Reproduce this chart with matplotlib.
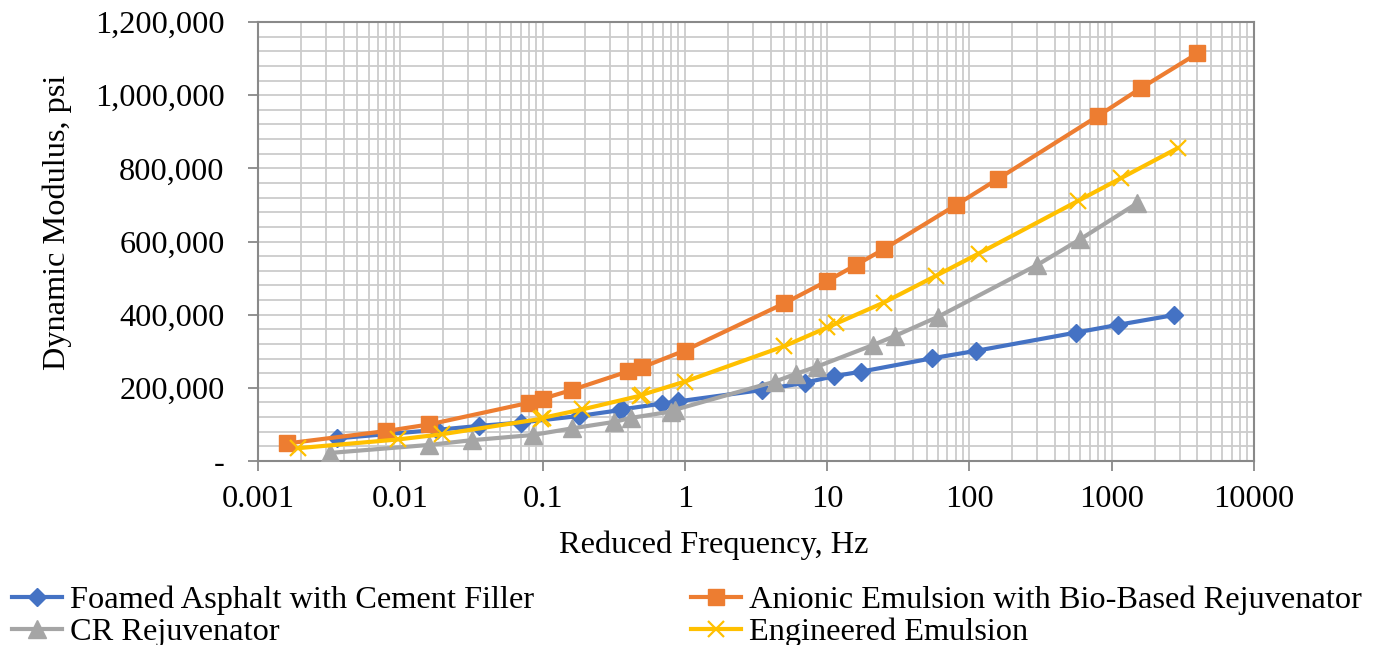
import matplotlib
matplotlib.use("Agg")
import matplotlib.pyplot as plt
from matplotlib.ticker import FixedLocator, FuncFormatter, LogLocator, NullFormatter

plt.rcParams['font.family'] = ['Liberation Serif', 'DejaVu Serif']

# Data (reduced frequency Hz, dynamic modulus psi)
foamed_f = [0.0036, 0.018, 0.036, 0.07, 0.18, 0.35, 0.36, 0.69, 0.9, 3.46, 7, 11.2, 17.2, 55, 111, 560, 1100, 2750]
foamed_e = [62000, 85000, 96000, 105000, 123000, 139000, 141000, 157000, 163000, 194000, 214000, 232000, 244000, 281000, 301000, 351000, 372000, 399000]

anionic_f = [0.0016, 0.008, 0.016, 0.08, 0.1, 0.16, 0.4, 0.5, 1.0, 5, 10, 16, 25, 80, 160, 800, 1600, 4000]
anionic_e = [48000, 82000, 100000, 159000, 170000, 194000, 245000, 256000, 302000, 431000, 492000, 536000, 579000, 699000, 772000, 943000, 1019000, 1114000]

cr_f = [0.0032, 0.016, 0.032, 0.085, 0.16, 0.32, 0.42, 0.8, 0.85, 4.3, 6.0, 8.5, 21, 30, 60, 300, 600, 1500]
cr_e = [22000, 44000, 57000, 71000, 89000, 107000, 118000, 135000, 140000, 217000, 238000, 258000, 317000, 342000, 394000, 536000, 606000, 704000]

eng_f = [0.0019, 0.0097, 0.0195, 0.097, 0.1, 0.19, 0.48, 0.5, 1.0, 5, 10, 11.6, 25, 58, 116, 580, 1160, 2900]
eng_e = [35000, 59000, 73000, 115000, 118000, 141000, 178000, 181000, 217000, 314000, 365000, 376000, 433000, 506000, 567000, 711000, 773000, 855000]

series_labels = ["Foamed Asphalt with Cement Filler", "Anionic Emulsion with Bio-Based Rejuvenator",
                 "CR Rejuvenator", "Engineered Emulsion"]
x_ticks = [0.001, 0.01, 0.1, 1, 10, 100, 1000, 10000]
x_tick_labels = ["0.001", "0.01", "0.1", "1", "10", "100", "1000", "10000"]
y_ticks = [0, 200000, 400000, 600000, 800000, 1000000, 1200000]

fig = plt.figure(figsize=(13.74, 6.45), dpi=100)
ax = fig.add_axes([258/1374, 1-461/645, (1254-258)/1374, (461-22)/645])

fs = 23.3
lw = 3.0
l1, = ax.plot(foamed_f, foamed_e, color='#4472C4', lw=lw, marker='D', ms=9, zorder=3)
l2, = ax.plot(anionic_f, anionic_e, color='#ED7D31', lw=lw, marker='s', ms=12, zorder=3)
l3, = ax.plot(cr_f, cr_e, color='#A5A5A5', lw=lw, marker='^', ms=12.5, zorder=3)
l4, = ax.plot(eng_f, eng_e, color='#FFC000', lw=lw, marker='x', ms=11.5, mew=1.6, zorder=3)

ax.set_xscale('log')
ax.set_xlim(0.001, 10000)
ax.set_ylim(0, 1200000)
ax.xaxis.set_major_locator(FixedLocator(x_ticks))
ax.set_xticklabels(x_tick_labels)
ax.xaxis.set_minor_locator(LogLocator(base=10, subs=range(2, 10), numticks=100))
ax.xaxis.set_minor_formatter(NullFormatter())
ax.yaxis.set_major_locator(FixedLocator(y_ticks))
ax.yaxis.set_minor_locator(FixedLocator(list(range(0, 1200001, 40000))))
ax.yaxis.set_major_formatter(FuncFormatter(lambda v, p: "-" if v == 0 else f"{int(v):,}"))

ax.grid(True, which='both', axis='both', color='#cccccc', lw=1.3, zorder=0)
ax.set_axisbelow(True)
for s in ax.spines.values():
    s.set_color('#898989')
    s.set_linewidth(1.5)
ax.tick_params(axis='both', which='major', direction='out', length=7, width=1.3, color='#898989', labelsize=fs)
ax.tick_params(axis='x', which='major', pad=10)
ax.tick_params(axis='y', which='major', pad=17)
ax.tick_params(which='minor', length=0)

ax.set_xlabel("Reduced Frequency, Hz", fontsize=fs)
ax.set_ylabel("Dynamic Modulus, psi", fontsize=fs)
ax.xaxis.set_label_coords((714-258)/996, -(545-461)/439, transform=ax.transAxes)
ax.xaxis.label.set_va('center')
ax.yaxis.set_label_coords((57-258)/996, (461-222)/439, transform=ax.transAxes)
ax.yaxis.label.set_va('center')

leg = fig.legend([l1, l3, l2, l4], [series_labels[0], series_labels[2], series_labels[1], series_labels[3]],
                 ncol=2, loc='lower left', bbox_to_anchor=(-0.001, -0.023), frameon=False,
                 fontsize=fs, handlelength=1.55, handletextpad=0.25, columnspacing=4.84,
                 labelspacing=0.07, borderaxespad=0.0)

fig.savefig("out.png", dpi=100)
